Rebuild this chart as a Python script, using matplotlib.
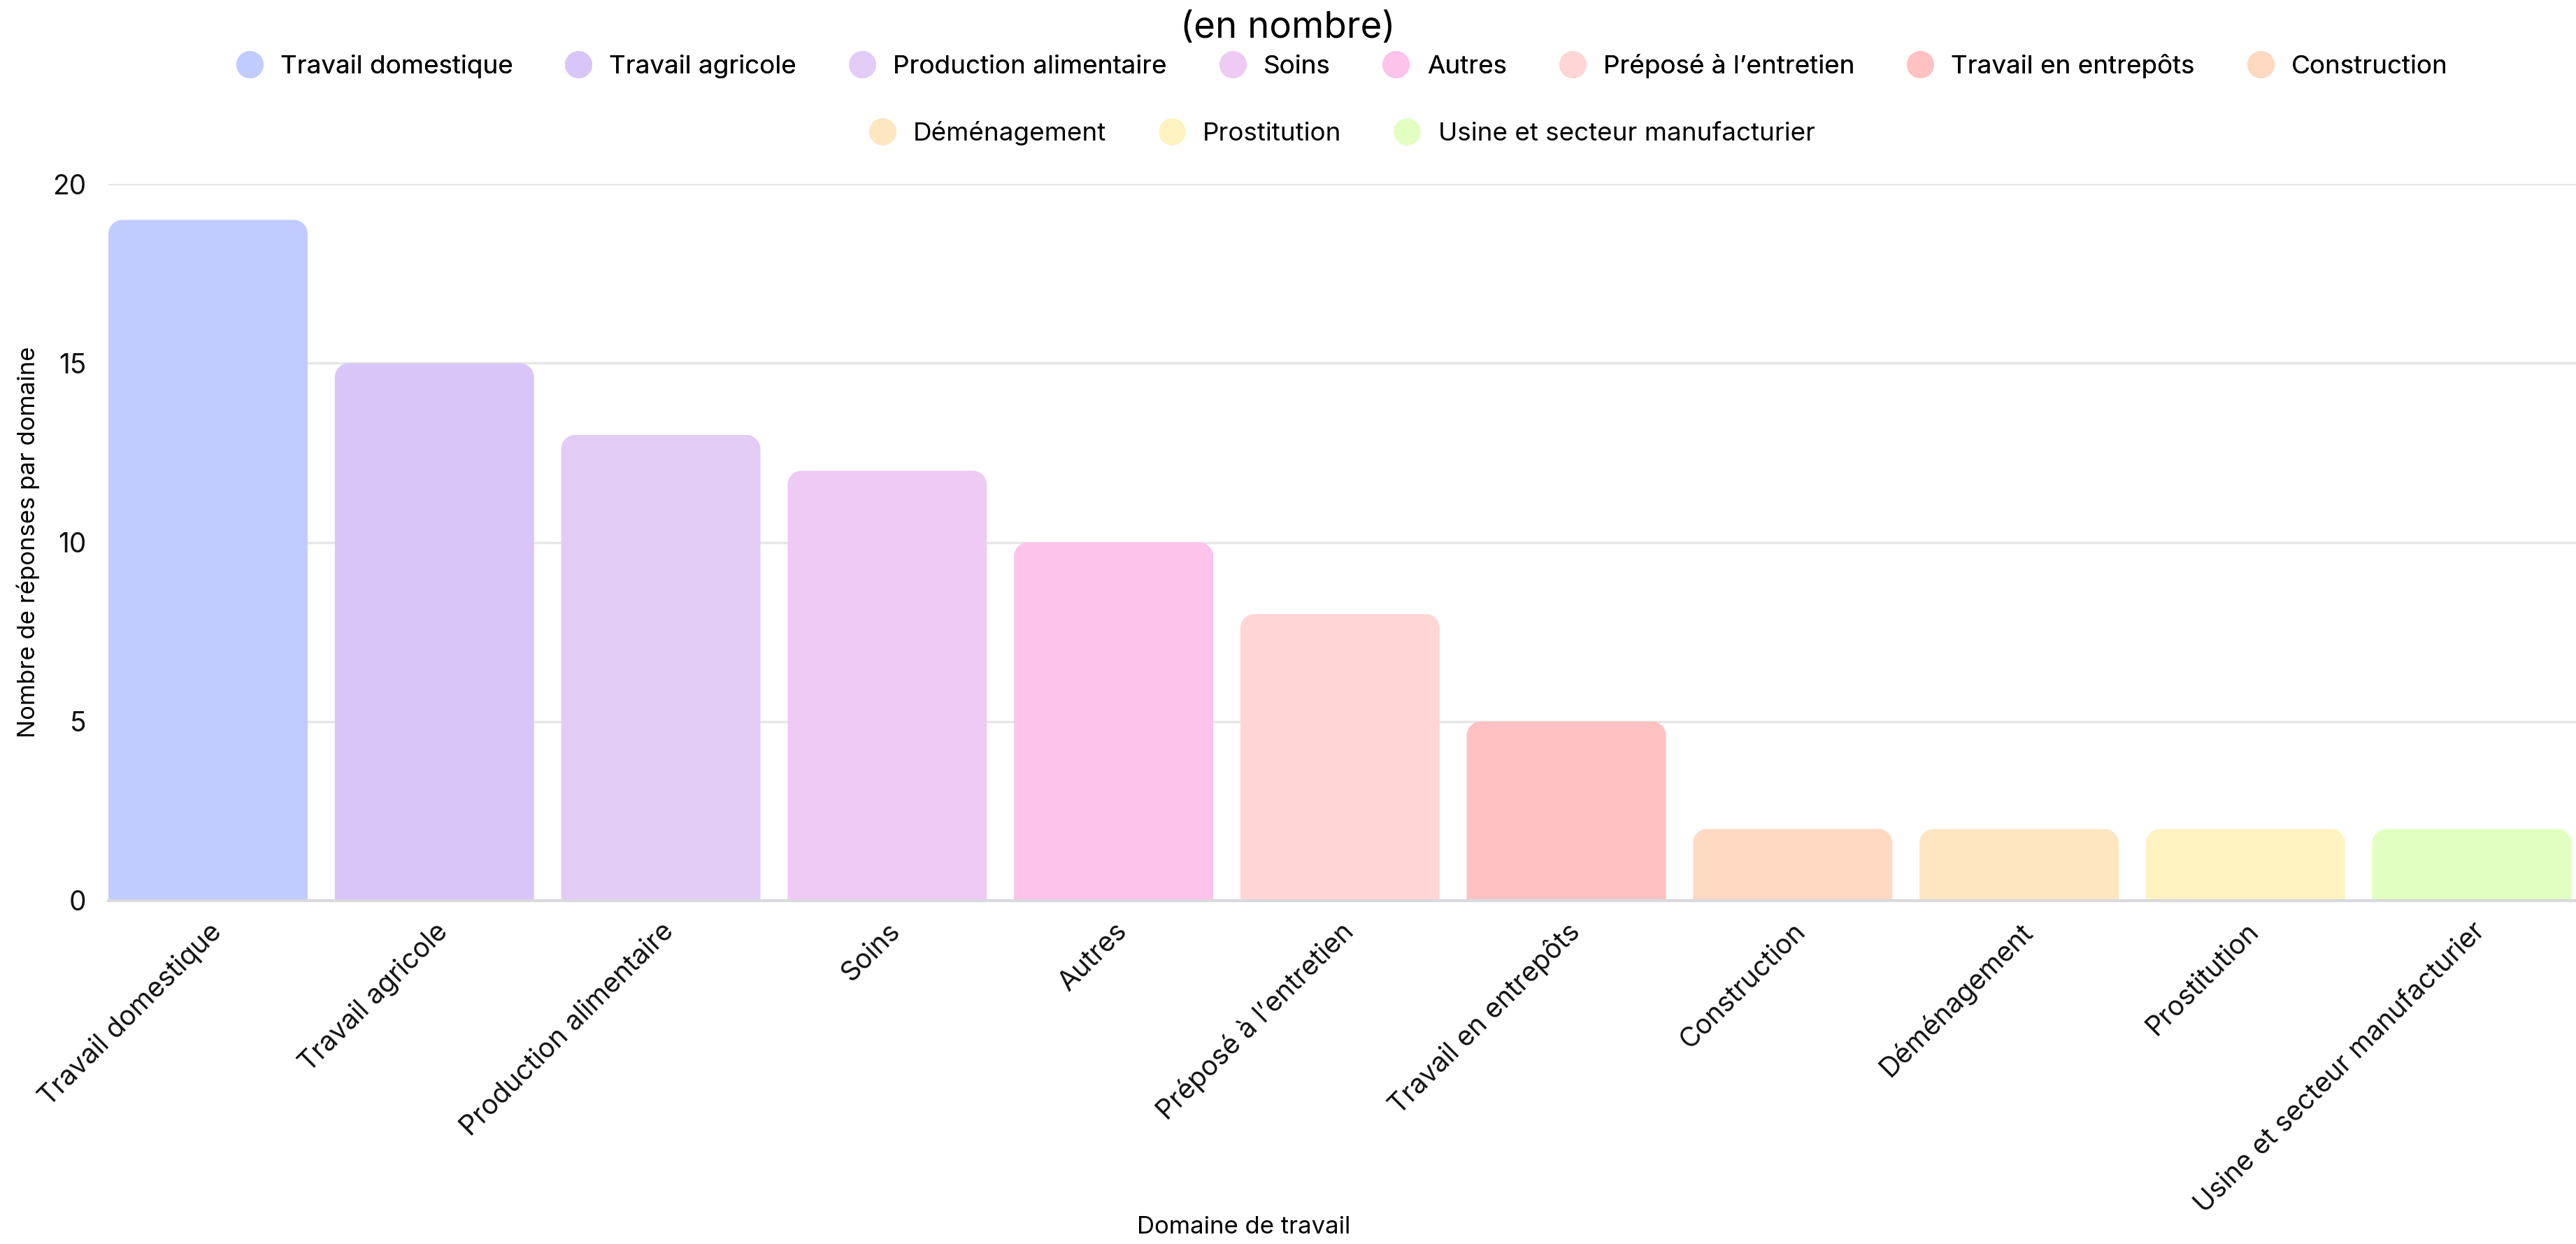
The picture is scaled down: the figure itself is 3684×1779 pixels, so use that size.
import numpy as np
import matplotlib.pyplot as plt
from matplotlib.path import Path
from matplotlib.patches import PathPatch
from matplotlib.lines import Line2D

plt.rcParams['font.family'] = ['Inter', 'DejaVu Sans']

# Données
domaines = ['Travail domestique', 'Travail agricole', 'Production alimentaire', 'Soins',
            'Autres', 'Préposé à l\u2019entretien', 'Travail en entrepôts', 'Construction',
            'Déménagement', 'Prostitution', 'Usine et secteur manufacturier']
reponses = [19, 15, 13, 12, 10, 8, 5, 2, 2, 2, 2]
couleurs = ['#C1CBFD', '#D8C6F9', '#E2CCF6', '#EECAF5', '#FDC3EA', '#FFD5D5',
            '#FFC1C1', '#FED9C1', '#FEE6C1', '#FFF2C1', '#E2FFC1']

fig = plt.figure(figsize=(36.84, 17.79), dpi=100)
ax = fig.add_axes([0.0421, 0.276, 0.9579, 0.576])

x = np.arange(len(domaines))
ax.set_xlim(-0.44, 10.46)
ax.set_ylim(0, 20)
barres = ax.bar(x, reponses, width=0.88, color=couleurs)

# coins arrondis en haut
fig.canvas.draw()
bbox = ax.get_window_extent()
px_x = bbox.width / (ax.get_xlim()[1] - ax.get_xlim()[0])
px_y = bbox.height / (ax.get_ylim()[1] - ax.get_ylim()[0])
r = 20
rx, ry = r / px_x, r / px_y
k = 0.5523
for b in barres:
    x0, y0 = b.get_x(), b.get_y()
    w, h = b.get_width(), b.get_height()
    x1, y1 = x0 + w, y0 + h
    verts = [(x0, y0), (x0, y1 - ry),
             (x0, y1 - ry + k * ry), (x0 + rx - k * rx, y1), (x0 + rx, y1),
             (x1 - rx, y1),
             (x1 - rx + k * rx, y1), (x1, y1 - ry + k * ry), (x1, y1 - ry),
             (x1, y0), (x0, y0)]
    codes = [Path.MOVETO, Path.LINETO,
             Path.CURVE4, Path.CURVE4, Path.CURVE4,
             Path.LINETO,
             Path.CURVE4, Path.CURVE4, Path.CURVE4,
             Path.LINETO, Path.CLOSEPOLY]
    ax.add_patch(PathPatch(Path(verts, codes), facecolor=b.get_facecolor(),
                           edgecolor='none', zorder=3))
    b.set_visible(False)

ax.set_yticks([0, 5, 10, 15, 20])
ax.yaxis.grid(True, color='#E6E6E6', linewidth=2.5)
ax.set_axisbelow(True)
for s in ['top', 'right', 'left']:
    ax.spines[s].set_visible(False)
ax.spines['bottom'].set_color('#D9D9DE')
ax.spines['bottom'].set_linewidth(3)
ax.spines['bottom'].set_zorder(4)
ax.tick_params(axis='both', length=0, labelsize=28, colors='#111111')
ax.tick_params(axis='y', pad=23)
ax.tick_params(axis='x', pad=18)
ax.set_xticks(x)
ax.set_xticklabels(domaines, rotation=45, ha='right', rotation_mode='anchor', fontsize=28)

ax.set_ylabel('Nombre de réponses par domaine', fontsize=25, va='center')
ax.yaxis.set_label_coords(-0.0326, 0.5)
ax.set_xlabel('Domaine de travail', fontsize=25, va='center')
ax.xaxis.set_label_coords(0.46, -0.456)

fig.text(0.5, 0.977, '(en nombre)', ha='center', va='center', fontsize=38)

poignees = [Line2D([], [], marker='o', linestyle='none', markersize=28,
                   markerfacecolor=c, markeredgecolor='none') for c in couleurs]
leg1 = fig.legend(poignees[:8], domaines[:8], loc='center', bbox_to_anchor=(0.52, 0.947),
                  ncol=8, frameon=False, fontsize=26.5, handletextpad=0.5,
                  columnspacing=1.85, handlelength=1.4)
fig.add_artist(leg1)
fig.legend(poignees[8:], domaines[8:], loc='center', bbox_to_anchor=(0.52, 0.893),
           ncol=3, frameon=False, fontsize=26.5, handletextpad=0.5,
           columnspacing=1.85, handlelength=1.4)

fig.savefig('out.png', dpi=100, facecolor='white')
